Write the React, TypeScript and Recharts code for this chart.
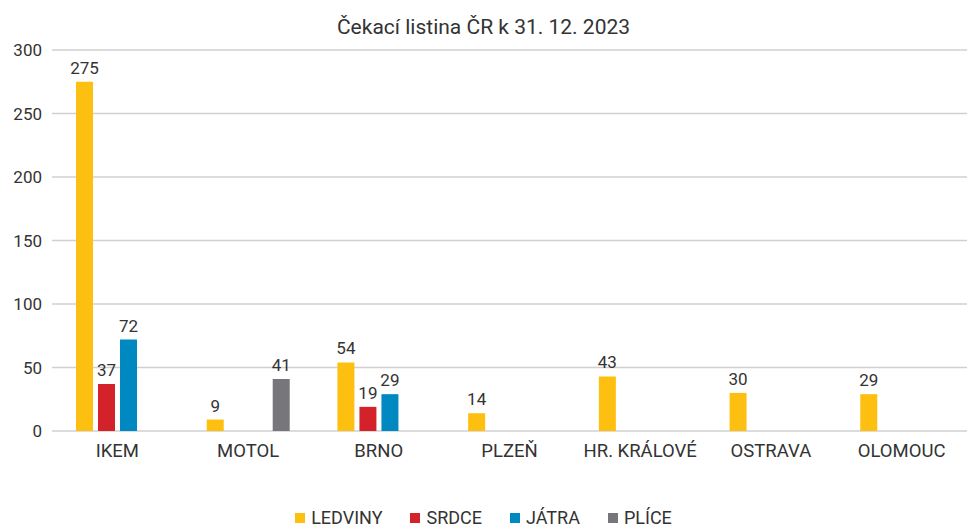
import React from 'react';
import {
  BarChart,
  Bar,
  XAxis,
  YAxis,
  CartesianGrid,
  Legend,
  LabelList,
} from 'recharts';

const centers = ['IKEM', 'MOTOL', 'BRNO', 'PLZEŇ', 'HR. KRÁLOVÉ', 'OSTRAVA', 'OLOMOUC'];
const ledviny = [275, 9, 54, 14, 43, 30, 29];
const srdce = [37, 0, 19, 0, 0, 0, 0];
const jatra = [72, 0, 29, 0, 0, 0, 0];
const plice = [0, 41, 0, 0, 0, 0, 0];
const yTicks = [0, 50, 100, 150, 200, 250, 300];

const series = [
  { key: 'ledviny', name: 'LEDVINY', color: '#FDC010' },
  { key: 'srdce', name: 'SRDCE', color: '#D3222A' },
  { key: 'jatra', name: 'JÁTRA', color: '#0088C0' },
  { key: 'plice', name: 'PLÍCE', color: '#77777B' },
];

const data = centers.map((name, i) => ({
  name,
  ledviny: ledviny[i],
  srdce: srdce[i],
  jatra: jatra[i],
  plice: plice[i],
}));

const FONT = 'Roboto, "Noto Sans", sans-serif';
const TEXT = '#333333';

const LegendContent = () => (
  <div
    style={{
      display: 'flex',
      justifyContent: 'center',
      gap: 28,
      fontFamily: FONT,
      fontSize: 18,
      color: TEXT,
      height: 20,
      lineHeight: '20px',
    }}
  >
    {series.map((s) => (
      <div key={s.key} style={{ display: 'flex', alignItems: 'center' }}>
        <span style={{ width: 10, height: 10, background: s.color, marginRight: 6, display: 'inline-block' }} />
        <span>{s.name}</span>
      </div>
    ))}
  </div>
);

const hideZero = (v: any) => (v ? v : '');

export default function App() {
  return (
    <div style={{ position: 'fixed', left: 0, top: 0, width: 967, height: 531, background: '#fff' }}>
      <div
        style={{
          position: 'absolute',
          top: 13,
          left: 0,
          width: 967,
          textAlign: 'center',
          fontFamily: FONT,
          fontSize: 21,
          color: TEXT,
          lineHeight: '28px',
          zIndex: 1,
        }}
      >
        Čekací listina ČR k 31. 12. 2023
      </div>
      <BarChart
        width={967}
        height={531}
        data={data}
        margin={{ top: 50, right: 0, left: 0, bottom: 50 }}
        barSize={17}
        barGap={5}
      >
        <CartesianGrid vertical={false} stroke="#d0d0d0" strokeWidth={1.3} />
        <XAxis
          dataKey="name"
          axisLine={false}
          tickLine={false}
          tickMargin={7}
          interval={0}
          tick={{ fill: TEXT, fontSize: 18.5, fontFamily: FONT }}
        />
        <YAxis
          width={52}
          domain={[0, 300]}
          ticks={yTicks}
          axisLine={false}
          tickLine={false}
          tickMargin={4}
          tick={{ fill: TEXT, fontSize: 17, fontFamily: FONT }}
        />
        <Legend
          verticalAlign="bottom"
          content={<LegendContent />}
          wrapperStyle={{ top: 508, bottom: 'auto', left: 0, width: 967 }}
        />
        {series.map((s) => (
          <Bar key={s.key} dataKey={s.key} name={s.name} fill={s.color} isAnimationActive={false}>
            <LabelList
              dataKey={s.key}
              position="top"
              offset={8}
              formatter={hideZero}
              style={{ fill: TEXT, fontSize: 17, fontFamily: FONT }}
            />
          </Bar>
        ))}
      </BarChart>
    </div>
  );
}
